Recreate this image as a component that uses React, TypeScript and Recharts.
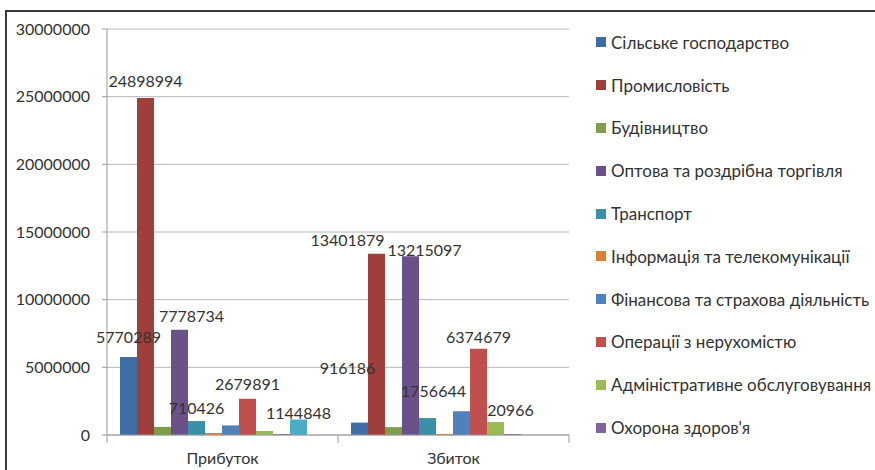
import React from 'react';
import { BarChart, Bar, XAxis, YAxis, CartesianGrid, Legend, LabelList } from 'recharts';

const categories = ['Прибуток', 'Збиток'];

const seriesNames = [
  'Сільське господарство',
  'Промисловість',
  'Будівництво',
  'Оптова та роздрібна торгівля',
  'Транспорт',
  'Інформація та телекомунікації',
  'Фінансова та страхова діяльність',
  'Операції з нерухомістю',
  'Адміністративне обслуговування',
  "Охорона здоров'я",
  'Мистецтво, спорт, розваги та відпочинок',
  'Надання інших видів послуг',
];

// number of legend entries visible in the reference (the rest are cut off)
const visibleLegendCount = 10;

const agriculture = [5770289, 916186];
const industry = [24898994, 13401879];
const construction = [600000, 580000];
const trade = [7778734, 13215097];
const transport = [1030000, 1250000];
const telecom = [150000, 80000];
const finance = [710426, 1756644];
const realEstate = [2679891, 6374679];
const administrative = [300000, 950000];
const health = [40000, 20966];
const arts = [1144848, 0];
const otherServices = [0, 0];

const seriesValues = [
  agriculture, industry, construction, trade, transport, telecom,
  finance, realEstate, administrative, health, arts, otherServices,
];

// which points carry a data label (by series index -> category flags)
const labelled = [
  [true, true], [true, true], [false, false], [true, true], [false, false], [false, false],
  [true, true], [true, true], [false, false], [false, true], [true, false], [false, false],
];

const yTicks = [0, 5000000, 10000000, 15000000, 20000000, 25000000, 30000000];

const colors = [
  '#3F6DA5', '#9F3E3B', '#7F9C48', '#6A5189', '#3A91A7', '#DD7E34',
  '#4F81BD', '#C0504D', '#9BBB59', '#8064A2', '#4BACC6', '#F79646',
];

// label placement tweaks (style): [dx, distance of label centre above bar top]
const labelShift: Record<number, [number, number][]> = {
  0: [[0, 20], [-12, 55]],
  1: [[0, 18], [-29, 14]],
  3: [[12, 14], [14, 7]],
  6: [[-34, 18], [-28, 21]],
  7: [[0, 15], [0, 12]],
  9: [[0, 0], [-2, 25]],
  10: [[0, 7], [0, 0]],
};

const FONT = 'Lato, "Noto Sans", sans-serif';
const TEXT = '#333333';

const data = categories.map((name, i) => {
  const row: Record<string, string | number> = { name };
  seriesValues.forEach((arr, s) => {
    row['s' + s] = arr[i];
  });
  return row;
});

const makeLabel = (s: number) => (props: any) => {
  const { x, y, width, value, index } = props;
  if (!labelled[s] || !labelled[s][index]) return null;
  const shift = (labelShift[s] && labelShift[s][index]) || [0, 12];
  return (
    <text
      key={`lbl-${s}-${index}`}
      x={Number(x) + Number(width) / 2 + shift[0]}
      y={Number(y) - shift[1]}
      textAnchor="middle"
      dominantBaseline="central"
      fill={TEXT}
      fontFamily={FONT}
      fontSize={16}
    >
      {value}
    </text>
  );
};

const CategoryTick = (props: any) => {
  const { x, y, payload, index, visibleTicksCount } = props;
  const half = payload && typeof payload.offset === 'number' ? payload.offset : 0;
  const axisY = y - 18;
  const isLast = index === (visibleTicksCount ?? categories.length) - 1;
  return (
    <g>
      <line x1={x - half} x2={x - half} y1={axisY} y2={axisY + 8} stroke="#9A9A9A" strokeWidth={1} />
      {isLast && (
        <line x1={x + half} x2={x + half} y1={axisY} y2={axisY + 8} stroke="#9A9A9A" strokeWidth={1} />
      )}
      <text x={x} y={y} dy="0.71em" textAnchor="middle" fill={TEXT} fontFamily={FONT} fontSize={16}>
        {payload.value}
      </text>
    </g>
  );
};

const renderLegend = (props: any) => {
  const payload: any[] = props.payload || [];
  const ordered = seriesNames
    .slice(0, visibleLegendCount)
    .map((n) => payload.find((p: any) => p.value === n))
    .filter(Boolean);
  return (
    <div style={{ fontFamily: FONT, fontSize: 17, color: TEXT }}>
      {ordered.map((p: any, i: number) => (
        <div key={i} style={{ display: 'flex', alignItems: 'center', height: 42.8, whiteSpace: 'nowrap' }}>
          <span style={{ display: 'inline-block', width: 10, height: 10, background: p.color, marginRight: 5, flex: 'none' }} />
          <span>{p.value}</span>
        </div>
      ))}
    </div>
  );
};

export default function App() {
  return (
    <div
      style={{
        position: 'fixed',
        left: 0,
        top: 0,
        width: 875,
        height: 470,
        overflow: 'hidden',
        background: '#ffffff',
      }}
    >
      <div
        style={{
          position: 'absolute',
          left: 5,
          top: 10,
          width: 900,
          height: 500,
          borderTop: '2px solid #3A3A3A',
          borderLeft: '2px solid #3A3A3A',
        }}
      />
      <div style={{ position: 'absolute', left: 0, top: 0 }}>
        <BarChart
          width={875}
          height={470}
          data={data}
          margin={{ top: 29, right: 306, bottom: 5, left: 0 }}
          barCategoryGap={13}
          barGap={0}
        >
          <CartesianGrid vertical={false} stroke="#B8B8B8" strokeWidth={1} />
          <XAxis
            dataKey="name"
            height={30}
            axisLine={{ stroke: '#9A9A9A' }}
            tickLine={false}
            tickSize={0}
            tickMargin={18}
            tick={<CategoryTick />}
            interval={0}
          />
          <YAxis
            width={107}
            domain={[0, 30000000]}
            ticks={yTicks}
            interval={0}
            axisLine={{ stroke: '#9A9A9A' }}
            tickLine={{ stroke: '#9A9A9A' }}
            tickSize={5}
            tickMargin={12}
            tick={{ fill: TEXT, fontFamily: FONT, fontSize: 16 }}
          />
          <Legend
            layout="horizontal"
            align="center"
            verticalAlign="middle"
            itemSorter={null as any}
            content={renderLegend}
            wrapperStyle={{ position: 'absolute', left: 596, top: 21, width: 279, height: 430 }}
          />
          {seriesNames.map((name, s) => (
            <Bar
              key={name}
              dataKey={'s' + s}
              name={name}
              fill={colors[s]}
              isAnimationActive={false}
              minPointSize={s === 9 ? 1 : 0}
            >
              <LabelList dataKey={'s' + s} content={makeLabel(s)} />
            </Bar>
          ))}
        </BarChart>
      </div>
    </div>
  );
}
